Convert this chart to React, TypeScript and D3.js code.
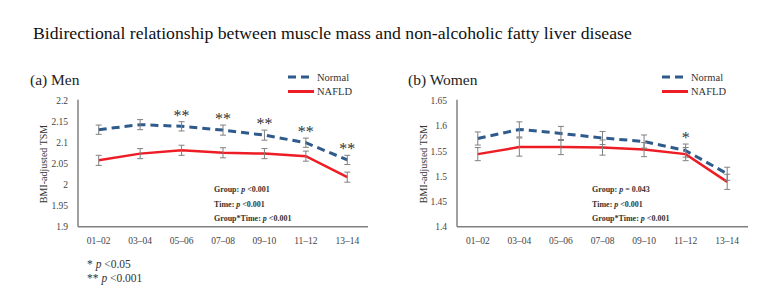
import React from "react";
import * as d3 from "d3";

const categories = ["01–02", "03–04", "05–06", "07–08", "09–10", "11–12", "13–14"];

const menNormal = [2.131, 2.143, 2.139, 2.13, 2.118, 2.1, 2.059];
const menNormalErr = [0.011, 0.012, 0.011, 0.012, 0.012, 0.011, 0.011];
const menNafld = [2.058, 2.074, 2.082, 2.076, 2.074, 2.068, 2.018];
const menNafldErr = [0.012, 0.012, 0.012, 0.012, 0.012, 0.012, 0.012];
const menStars = ["", "", "**", "**", "**", "**", "**"];
const menTicks = [1.9, 1.95, 2, 2.05, 2.1, 2.15, 2.2];
const menStats = ["Group: ", "<0.001", "Time: ", "<0.001", "Group*Time: ", "<0.001"];

const womenNormal = [1.575, 1.593, 1.585, 1.576, 1.569, 1.551, 1.505];
const womenNormalErr = [0.013, 0.015, 0.014, 0.013, 0.013, 0.013, 0.013];
const womenNafld = [1.544, 1.558, 1.558, 1.557, 1.553, 1.544, 1.489];
const womenNafldErr = [0.013, 0.018, 0.015, 0.015, 0.014, 0.013, 0.015];
const womenStars = ["", "", "", "", "", "*", ""];
const womenTicks = [1.4, 1.45, 1.5, 1.55, 1.6, 1.65];
const womenStats = ["Group: ", "= 0.043", "Time: ", "<0.001", "Group*Time: ", "<0.001"];

const BLUE = "#2f5b8c";
const RED = "#ee1c24";
const GRAY = "#808080";
const FONT = "'Liberation Serif', 'Times New Roman', serif";

type PanelProps = {
  title: string;
  x0: number;
  x1: number;
  titleX: number;
  labelX: number;
  legendX: number;
  domain: [number, number];
  ticks: number[];
  normal: number[];
  normalErr: number[];
  nafld: number[];
  nafldErr: number[];
  stars: string[];
  stats: string[];
  statsX: number;
};

function Panel(p: PanelProps) {
  const yTop = 100.7;
  const yBot = 226.7;
  const x = d3.scalePoint<string>().domain(categories).range([p.x0, p.x1]).padding(0.5);
  const y = d3.scaleLinear().domain(p.domain).range([yBot, yTop]);
  const line = d3
    .line<number>()
    .x((_, i) => x(categories[i]) as number)
    .y((d) => y(d));
  const fmt = (v: number) => d3.format("")(+v.toFixed(2));

  const errBars = (vals: number[], errs: number[], key: string) =>
    vals.map((v, i) => {
      const cx = x(categories[i]) as number;
      const top = y(v + errs[i]);
      const bot = y(v - errs[i]);
      return (
        <g key={key + i} stroke={GRAY} strokeWidth={1}>
          <line x1={cx} x2={cx} y1={top} y2={bot} />
          <line x1={cx - 3} x2={cx + 3} y1={top} y2={top} />
          <line x1={cx - 3} x2={cx + 3} y1={bot} y2={bot} />
        </g>
      );
    });

  const statY = [192.3, 207.3, 221];

  return (
    <g fontFamily={FONT}>
      <text x={p.titleX} y={85} fontSize={15.5} fill="#222">
        {p.title}
      </text>
      {/* legend */}
      <line x1={p.legendX} x2={p.legendX + 26} y1={77} y2={77} stroke={BLUE} strokeWidth={3} strokeDasharray="8,5" />
      <text x={p.legendX + 29} y={80.5} fontSize={10.5} fill="#333">
        Normal
      </text>
      <line x1={p.legendX} x2={p.legendX + 26} y1={91.5} y2={91.5} stroke={RED} strokeWidth={3} />
      <text x={p.legendX + 29} y={95} fontSize={10.5} fill="#333">
        NAFLD
      </text>
      {/* y label */}
      <text
        transform={`translate(${p.labelX},${164}) rotate(-90)`}
        textAnchor="middle"
        fontSize={10}
        fill="#333"
      >
        BMI-adjusted TSM
      </text>
      {/* y ticks */}
      {p.ticks.map((t) => (
        <text key={t} x={p.x0 - 10} y={y(t) + 3.5} textAnchor="end" fontSize={9.5} fill="#444">
          {fmt(t)}
        </text>
      ))}
      {/* x ticks */}
      {categories.map((c) => (
        <text key={c} x={x(c) as number} y={244} textAnchor="middle" fontSize={9.5} fill="#444">
          {c}
        </text>
      ))}
      {/* axes */}
      <line x1={p.x0} x2={p.x0} y1={y(p.domain[1]) - 1} y2={yBot} stroke={GRAY} strokeWidth={1.5} />
      <line x1={p.x0} x2={p.x1} y1={yBot} y2={yBot} stroke={GRAY} strokeWidth={1.5} />
      {/* stats */}
      {[0, 1, 2].map((k) => (
        <text key={k} x={p.statsX} y={statY[k]} fontSize={8} fontWeight="bold" fill="#333">
          {p.stats[k * 2]}
          <tspan fontStyle="italic">p</tspan> {p.stats[k * 2 + 1]}
        </text>
      ))}
      {/* lines */}
      <path d={line(p.nafld) || ""} fill="none" stroke={RED} strokeWidth={2.5} />
      <path d={line(p.normal) || ""} fill="none" stroke={BLUE} strokeWidth={3} strokeDasharray="8,5" />
      {errBars(p.nafld, p.nafldErr, "f")}
      {errBars(p.normal, p.normalErr, "n")}
      {/* stars */}
      {p.stars.map((s, i) =>
        s ? (
          <text
            key={"s" + i}
            x={x(categories[i]) as number}
            y={y(p.normal[i] + p.normalErr[i]) - 1}
            textAnchor="middle"
            fontSize={16}
            fill="#333"
          >
            {s}
          </text>
        ) : null
      )}
    </g>
  );
}

export default function App() {
  return (
    <svg
      width={774}
      height={305}
      style={{ position: "absolute", left: 0, top: 0, background: "#fff" }}
    >
      <rect width={774} height={305} fill="#fff" />
      <text x={33} y={39} fontFamily={FONT} fontSize={17.7} fill="#111">
        Bidirectional relationship between muscle mass and non-alcoholic fatty liver disease
      </text>
      <Panel
        title="(a) Men"
        x0={78}
        x1={368}
        titleX={30}
        labelX={47}
        legendX={288}
        domain={[1.9, 2.2]}
        ticks={menTicks}
        normal={menNormal}
        normalErr={menNormalErr}
        nafld={menNafld}
        nafldErr={menNafldErr}
        stars={menStars}
        stats={menStats}
        statsX={214}
      />
      <Panel
        title="(b) Women"
        x0={457}
        x1={748}
        titleX={408}
        labelX={427}
        legendX={662}
        domain={[1.4, 1.65]}
        ticks={womenTicks}
        normal={womenNormal}
        normalErr={womenNormalErr}
        nafld={womenNafld}
        nafldErr={womenNafldErr}
        stars={womenStars}
        stats={womenStats}
        statsX={592}
      />
      <g fontFamily={FONT} fontSize={11.5} fill="#333">
        <text x={87} y={268}>
          * <tspan fontStyle="italic">p</tspan> {"<0.05"}
        </text>
        <text x={87} y={282}>
          ** <tspan fontStyle="italic">p</tspan> {"<0.001"}
        </text>
      </g>
    </svg>
  );
}
